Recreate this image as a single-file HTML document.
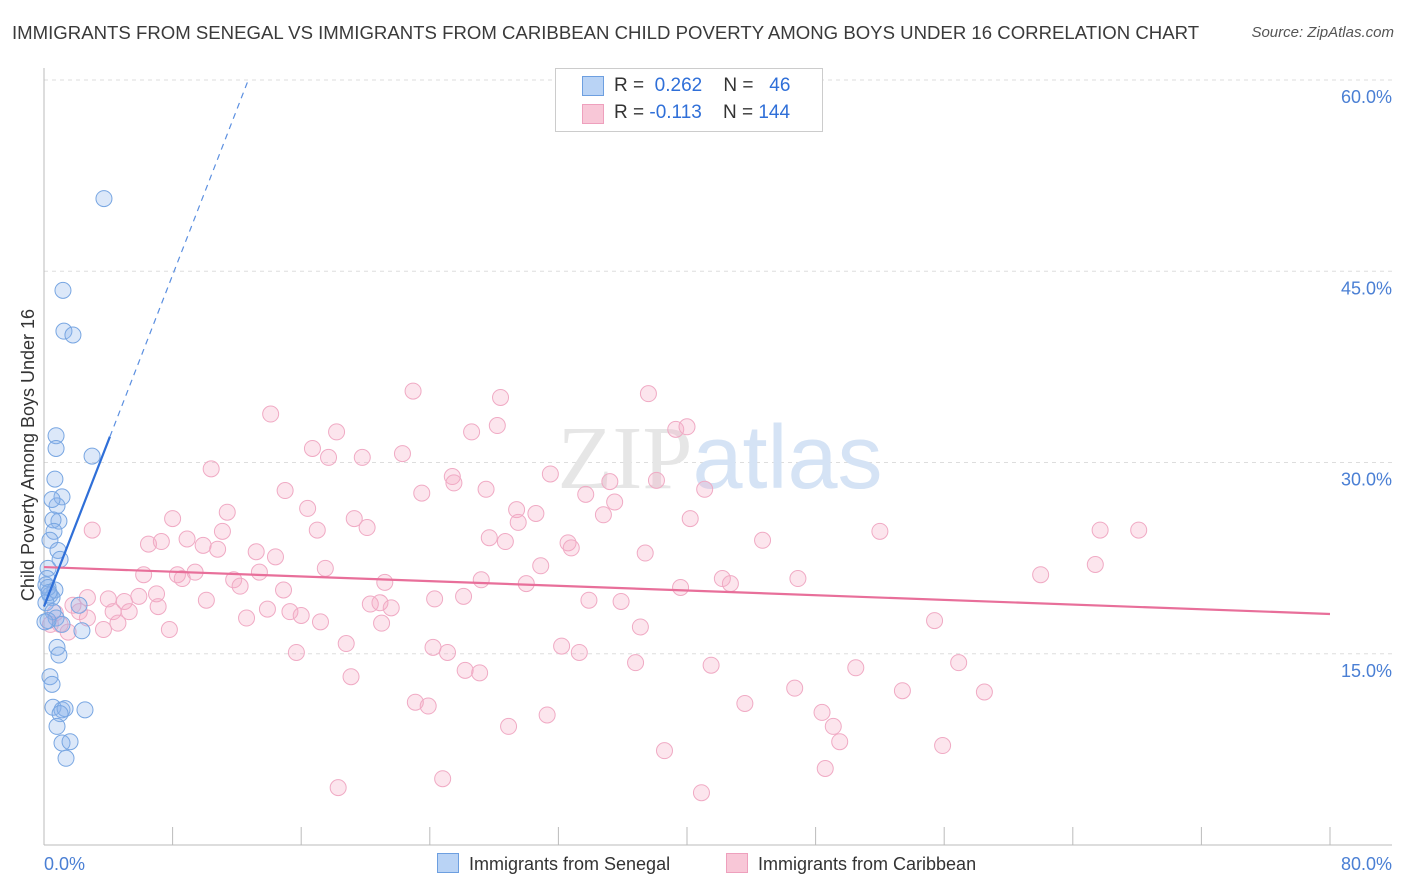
<!DOCTYPE html>
<html><head><meta charset="utf-8">
<style>
body{margin:0;background:#fff;font-family:"Liberation Sans",sans-serif;}
#wrap{position:relative;width:1406px;height:892px;overflow:hidden;}
.t{position:absolute;white-space:nowrap;}
</style></head><body>
<div id="wrap">
<div class="t" style="left:12px;top:22px;font-size:18.6px;color:#3a3a3a;">IMMIGRANTS FROM SENEGAL VS IMMIGRANTS FROM CARIBBEAN CHILD POVERTY AMONG BOYS UNDER 16 CORRELATION CHART</div>
<div class="t" style="right:12px;top:24px;font-size:15px;color:#555;font-style:italic;">Source: ZipAtlas.com</div>
<svg id="chart" width="1406" height="892" style="position:absolute;left:0;top:0"></svg>
</div>
<script>
const xTicks=[0,8,16,24,32,40,48,56,64,72,80];
const yTicks=[15,30,45,60];
const yTickLabels=["15.0%","30.0%","45.0%","60.0%"];
const senegalX=[3.73,1.18,1.24,1.8,0.75,0.75,2.99,0.68,1.12,0.81,0.93,0.56,0.62,0.37,0.87,0.25,0.19,0.12,0.68,0.37,0.5,0.12,2.18,0.56,0.75,1.12,2.36,0.81,0.93,0.37,0.5,0.56,1.12,1.31,1.0,2.55,0.81,1.12,1.62,1.37,0.25,0.06,1.0,0.5,0.25,0.31];
const senegalY=[50.7,43.5,40.3,40.0,32.1,31.1,30.5,28.7,27.3,26.6,25.4,25.5,24.6,23.9,23.1,21.7,20.9,20.4,20.0,19.6,19.4,19.0,18.8,18.3,17.8,17.3,16.8,15.5,14.9,13.2,12.6,10.8,10.6,10.7,10.3,10.6,9.3,8.0,8.1,6.8,17.6,17.5,22.4,27.1,20.2,19.8];
const caribX=[22.96,28.4,37.6,14.1,18.2,26.6,28.2,39.3,40.0,16.7,17.7,19.8,22.3,10.4,25.4,25.5,31.5,35.2,38.1,15.0,23.5,27.5,33.7,41.1,35.5,16.4,29.4,30.6,8.0,11.4,19.3,29.5,34.8,40.2,3.0,17.0,20.1,11.1,52.0,65.7,68.1,6.5,7.3,8.9,9.9,10.8,27.7,28.7,32.6,44.7,13.2,14.4,32.8,37.4,65.4,6.2,8.3,8.6,9.4,11.8,12.2,13.4,17.5,21.2,27.2,30.0,30.9,39.6,42.2,42.7,46.9,62.0,2.7,4.0,5.0,5.9,7.0,10.1,14.9,20.3,20.9,21.6,24.3,26.1,33.9,35.9,4.3,5.3,7.1,13.9,15.3,16.0,17.2,21.0,7.8,3.7,4.6,2.7,2.2,1.5,1.8,0.7,0.4,1.0,12.6,37.1,55.4,18.8,15.7,24.2,25.1,32.2,33.3,26.2,27.1,36.8,41.5,50.5,56.9,19.1,23.1,23.9,46.7,53.4,58.5,31.3,28.9,43.6,48.4,49.1,49.5,38.6,55.9,24.8,18.3,40.9,48.6];
const caribY=[35.6,35.1,35.4,33.8,32.4,32.4,32.9,32.6,32.8,31.1,30.4,30.4,30.7,29.5,28.9,28.4,29.1,28.5,28.6,27.8,27.6,27.9,27.5,27.9,26.9,26.4,26.3,26.0,25.6,26.1,25.6,25.3,25.9,25.6,24.7,24.7,24.9,24.6,24.6,24.7,24.7,23.6,23.8,24.0,23.5,23.2,24.1,23.8,23.7,23.9,23.0,22.6,23.3,22.9,22.0,21.2,21.2,20.9,21.4,20.8,20.3,21.4,21.7,20.6,20.8,20.5,21.9,20.2,20.9,20.5,20.9,21.2,19.4,19.3,19.1,19.5,19.7,19.2,20.0,18.9,19.0,18.6,19.3,19.5,19.2,19.1,18.3,18.3,18.7,18.5,18.3,18.0,17.5,17.4,16.9,16.9,17.4,17.8,18.3,16.7,18.8,18.2,17.3,17.3,17.8,17.1,17.6,15.8,15.1,15.5,15.1,15.6,15.1,13.7,13.5,14.3,14.1,13.9,14.3,13.2,11.2,10.9,12.3,12.1,12.0,10.2,9.3,11.1,10.4,9.3,8.1,7.4,7.8,5.2,4.5,4.1,6.0];
const senegalTrend=[18.7,3.25];
const caribTrend=[21.8,-0.046];

const NS="http://www.w3.org/2000/svg";
const svg=document.getElementById('chart');
const X0=44,X1=1330,Y0=845;
const xs=v=>X0+(X1-X0)*v/80;
const ys=v=>Y0-(Y0-80)*v/60;
function mk(tag,attrs,parent){const e=document.createElementNS(NS,tag);for(const k in attrs)e.setAttribute(k,attrs[k]);(parent||svg).appendChild(e);return e;}

yTicks.forEach((t,i)=>{
  const g=mk('line',{x1:X0,x2:1392,y1:ys(t),y2:ys(t),stroke:'#ddd','stroke-dasharray':'4,4'});
  
  
  const l=mk('text',{x:1392,y:ys(t)+23,'text-anchor':'end','font-size':18,fill:'#4a7fd4'});
  l.textContent=yTickLabels[i];
  
  
});
const ax=mk('line',{x1:X0,x2:1392,y1:Y0,y2:Y0,stroke:'#bbb'});


const ay=mk('line',{x1:X0,x2:X0,y1:68,y2:Y0,stroke:'#bbb'});


xTicks.forEach(t=>{
  const tk=mk('line',{x1:xs(t),x2:xs(t),y1:Y0,y2:Y0-18,stroke:'#bbb'});
  
  
});
const xl0=mk('text',{x:44,y:870,'font-size':18,fill:'#4a7fd4'});xl0.textContent='0.0%';


const xl1=mk('text',{x:1392,y:870,'text-anchor':'end','font-size':18,fill:'#4a7fd4'});xl1.textContent='80.0%';


const yt=mk('text',{x:0,y:0,transform:'translate(34,455) rotate(-90)','text-anchor':'middle','font-size':18,fill:'#333'});
yt.textContent='Child Poverty Among Boys Under 16';


const wm=mk('text',{x:720,y:488,'text-anchor':'middle','font-size':90,fill:'#e6e6e6','font-family':'Liberation Serif'});
wm.innerHTML='ZIP<tspan fill="#d5e3f5" font-family="Liberation Sans">atlas</tspan>';



caribX.forEach((v,i)=>{
  const c=mk('circle',{cx:xs(v),cy:ys(caribY[i]),r:8,fill:'rgba(244,170,196,0.3)',stroke:'#f0aac4','stroke-width':1});
  
  
});
senegalX.forEach((v,i)=>{
  const c=mk('circle',{cx:xs(v),cy:ys(senegalY[i]),r:8,fill:'rgba(140,180,235,0.3)',stroke:'#78a6e2','stroke-width':1});
  
  
});
const pl=mk('line',{x1:xs(0),y1:ys(caribTrend[0]),x2:xs(80),y2:ys(caribTrend[0]+caribTrend[1]*80),stroke:'#e86f9a','stroke-width':2.2});


const bl=mk('line',{x1:xs(0),y1:ys(senegalTrend[0]),x2:xs(4.1),y2:ys(senegalTrend[0]+senegalTrend[1]*4.1),stroke:'#2f6fd8','stroke-width':2.2});


const bx2=(60-senegalTrend[0])/senegalTrend[1];
const bd=mk('line',{x1:xs(4.1),y1:ys(senegalTrend[0]+senegalTrend[1]*4.1),x2:xs(bx2),y2:ys(60),stroke:'#5b8fe0','stroke-width':1.2,'stroke-dasharray':'6,5'});


</script>
<div class="t" style="left:555px;top:68px;width:266px;height:62px;border:1px solid #ccc;background:#fff;font-size:19px;">
 <div style="position:absolute;left:26px;top:7px;width:20px;height:18px;background:#b9d3f5;border:1px solid #6d9fe0;"></div>
 <div class="t" style="left:58px;top:6px;color:#333;">R = <span style="color:#2f6fd8">&nbsp;0.262</span>&nbsp;&nbsp;&nbsp; N = &nbsp;&nbsp;<span style="color:#2f6fd8">46</span></div>
 <div style="position:absolute;left:26px;top:35px;width:20px;height:18px;background:#f8c7d7;border:1px solid #eea0bd;"></div>
 <div class="t" style="left:58px;top:33px;color:#333;">R = <span style="color:#2f6fd8">-0.113</span>&nbsp;&nbsp;&nbsp; N = <span style="color:#2f6fd8">144</span></div>
</div>
<div class="t" style="left:437px;top:853px;font-size:18px;color:#333;"><span style="display:inline-block;width:20px;height:18px;background:#b9d3f5;border:1px solid #6d9fe0;vertical-align:-3px;margin-right:10px;"></span>Immigrants from Senegal</div>
<div class="t" style="left:726px;top:853px;font-size:18px;color:#333;"><span style="display:inline-block;width:20px;height:18px;background:#f8c7d7;border:1px solid #eea0bd;vertical-align:-3px;margin-right:10px;"></span>Immigrants from Caribbean</div>
</body></html>
